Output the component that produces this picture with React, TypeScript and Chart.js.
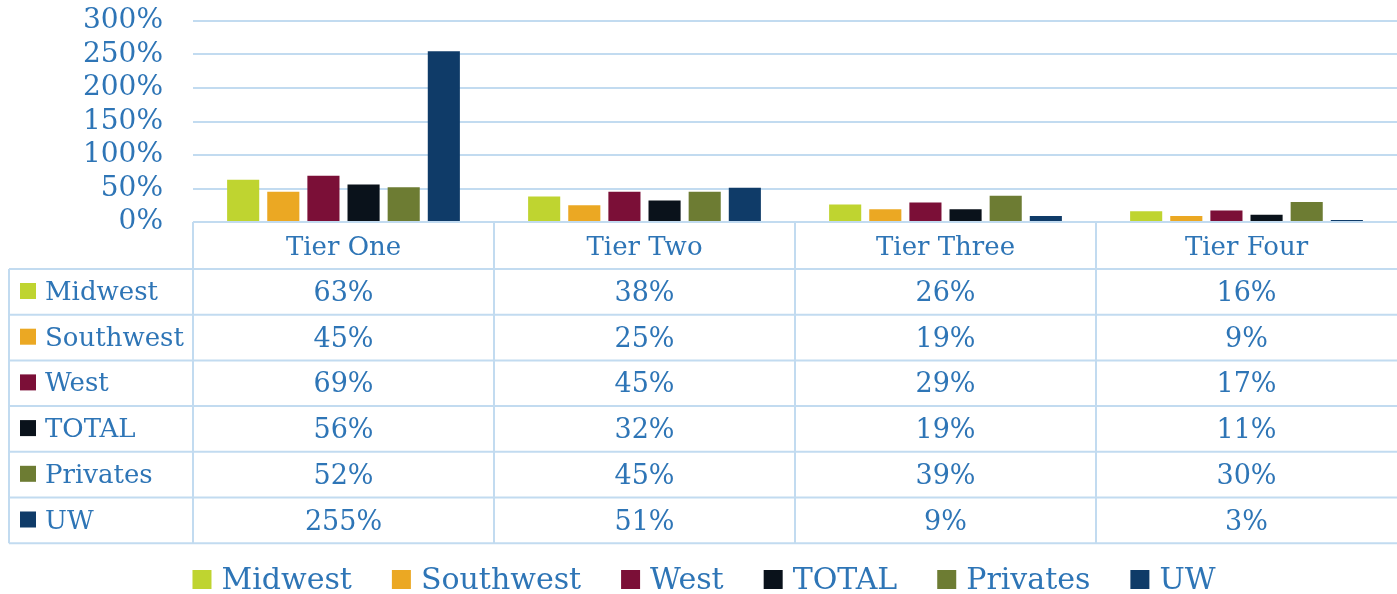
import React, { useEffect, useRef } from 'react';
import { Chart, registerables } from 'chart.js';

Chart.register(...registerables);

const categories = ['Tier One', 'Tier Two', 'Tier Three', 'Tier Four'];
const seriesNames = ['Midwest', 'Southwest', 'West', 'TOTAL', 'Privates', 'UW'];
const midwest = [63, 38, 26, 16];
const southwest = [45, 25, 19, 9];
const west = [69, 45, 29, 17];
const total = [56, 32, 19, 11];
const privates = [52, 45, 39, 30];
const uw = [255, 51, 9, 3];
const seriesValues = [midwest, southwest, west, total, privates, uw];
const seriesColors = ['#BFD430', '#EBA823', '#7B0F37', '#0A121B', '#6D7C33', '#0F3B68'];
const yMax = 300;
const yStep = 50;

const TEXT = '#2E75B6';
const GRID = '#C2DBF0';
const FONT = '"DejaVu Serif", "Liberation Serif", serif';

const fmt = (v: number) => `${v}%`;

const tablePlugin = {
  id: 'dataTableAndLegend',
  afterDraw(chart: any) {
    const ctx: CanvasRenderingContext2D = chart.ctx;
    const { left, right, bottom } = chart.chartArea;
    const xs = chart.scales.x;
    const colW = (right - left) / categories.length;
    const headerH = 47;
    const rowH = 45.7;
    const tableLeft = 9;
    const top = bottom;
    const headerBottom = top + headerH;
    const tableBottom = headerBottom + rowH * seriesNames.length;

    ctx.save();
    ctx.strokeStyle = GRID;
    ctx.lineWidth = 2;
    const line = (x1: number, y1: number, x2: number, y2: number) => {
      ctx.beginPath();
      ctx.moveTo(x1, y1);
      ctx.lineTo(x2, y2);
      ctx.stroke();
    };
    line(left, top, right, top);
    for (let i = 0; i <= seriesNames.length; i++) {
      const y = headerBottom + rowH * i;
      line(tableLeft, y, right, y);
    }
    line(tableLeft, headerBottom, tableLeft, tableBottom);
    for (let c = 0; c < categories.length; c++) {
      const x = left + c * colW;
      line(x, top, x, tableBottom);
    }

    // header
    ctx.fillStyle = TEXT;
    ctx.textAlign = 'center';
    ctx.textBaseline = 'alphabetic';
    ctx.font = `26px ${FONT}`;
    categories.forEach((cat, c) => {
      const cx = xs.getPixelForValue(c);
      ctx.fillText(cat, cx, top + 33);
    });

    // rows
    seriesNames.forEach((name, r) => {
      const rowTop = headerBottom + rowH * r;
      ctx.fillStyle = seriesColors[r];
      ctx.fillRect(20, rowTop + 14, 16, 16);
      ctx.fillStyle = TEXT;
      ctx.textAlign = 'left';
      ctx.font = `26px ${FONT}`;
      ctx.fillText(name, 45, rowTop + 31);
      ctx.textAlign = 'center';
      ctx.font = `27px ${FONT}`;
      seriesValues[r].forEach((v, c) => {
        const cx = xs.getPixelForValue(c);
        ctx.fillText(fmt(v), cx, rowTop + 32);
      });
    });

    // legend
    ctx.font = `30px ${FONT}`;
    ctx.textAlign = 'left';
    const box = 19;
    const gap = 10;
    const spacing = 40;
    const widths = seriesNames.map((n) => ctx.measureText(n).width);
    const totalW = widths.reduce((a, w) => a + box + gap + w, 0) + spacing * (seriesNames.length - 1);
    let x = 704 - totalW / 2;
    const baseline = 589;
    seriesNames.forEach((n, i) => {
      ctx.fillStyle = seriesColors[i];
      ctx.fillRect(x, 570, box, box);
      ctx.fillStyle = TEXT;
      ctx.fillText(n, x + box + gap, baseline);
      x += box + gap + widths[i] + spacing;
    });
    ctx.restore();
  },
};

export default function App() {
  const canvasRef = useRef<HTMLCanvasElement | null>(null);

  useEffect(() => {
    if (!canvasRef.current) return;
    const chart = new Chart(canvasRef.current, {
      type: 'bar',
      data: {
        labels: categories,
        datasets: seriesNames.map((name, i) => ({
          label: name,
          data: seriesValues[i],
          backgroundColor: seriesColors[i],
          borderWidth: 0,
          categoryPercentage: 0.8,
          barPercentage: 0.8,
        })),
      },
      options: {
        animation: false,
        responsive: true,
        maintainAspectRatio: false,
        layout: { padding: { top: 21, left: 0, right: 0, bottom: 0 } },
        plugins: {
          legend: { display: false },
          tooltip: { enabled: false },
        },
        scales: {
          x: {
            ticks: { display: false },
            grid: { display: false },
            border: { display: false },
            afterFit: (scale: any) => {
              scale.height = 372;
              scale.paddingLeft = 0;
              scale.paddingRight = 0;
            },
          },
          y: {
            min: 0,
            max: yMax,
            ticks: {
              stepSize: yStep,
              autoSkip: false,
              color: TEXT,
              padding: 30,
              font: { family: FONT, size: 28, lineHeight: 1.2 },
              callback: (v: any) => fmt(Number(v)),
            },
            grid: { color: GRID, lineWidth: 2, drawTicks: false },
            border: { display: false },
            afterFit: (scale: any) => {
              scale.width = 193;
              scale.paddingTop = 0;
              scale.paddingBottom = 0;
            },
          },
        },
      },
      plugins: [tablePlugin],
    });
    return () => chart.destroy();
  }, []);

  return (
    <div style={{ position: 'absolute', left: 0, top: 0, width: 1397, height: 594, background: '#fff' }}>
      <canvas ref={canvasRef} />
    </div>
  );
}
